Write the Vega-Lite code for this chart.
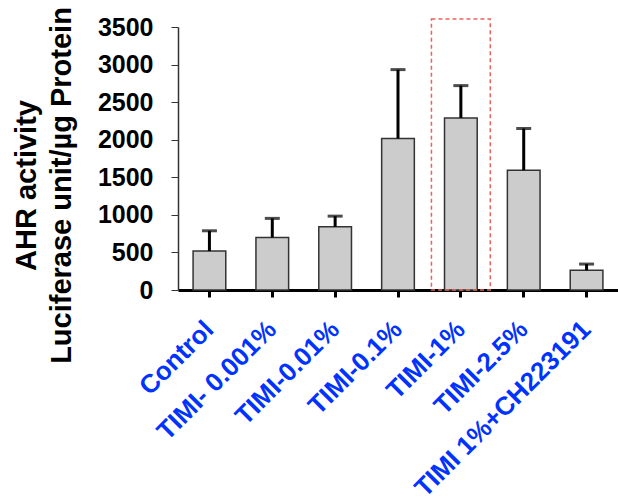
{
  "$schema": "https://vega.github.io/schema/vega-lite/v6.json",
  "width": 440,
  "height": 263,
  "autosize": {"type": "none"},
  "padding": {"left": 178, "top": 27, "right": 0, "bottom": 209},
  "config": {"font": "Liberation Sans", "view": {"stroke": null}, "axis": {"grid": false}},
  "datasets": {
    "bars": [
      {"group": "Control", "mean": 518, "upper": 788},
      {"group": "TIMI- 0.001%", "mean": 700, "upper": 953},
      {"group": "TIMI-0.01%", "mean": 842, "upper": 983},
      {"group": "TIMI-0.1%", "mean": 2016, "upper": 2933},
      {"group": "TIMI-1%", "mean": 2290, "upper": 2720},
      {"group": "TIMI-2.5%", "mean": 1595, "upper": 2149},
      {"group": "TIMI 1%+CH223191", "mean": 262, "upper": 345}
    ],
    "highlight": [{"group": "TIMI-1%", "top": 3606}]
  },
  "encoding": {
    "x": {
      "field": "group",
      "type": "nominal",
      "sort": null,
      "title": null,
      "scale": {
        "domain": ["Control", "TIMI- 0.001%", "TIMI-0.01%", "TIMI-0.1%", "TIMI-1%", "TIMI-2.5%", "TIMI 1%+CH223191"],
        "paddingInner": 0.48,
        "paddingOuter": 0.24
      },
      "axis": {
        "labelAngle": -45,
        "labelAlign": "right",
        "labelBaseline": "middle",
        "labelFontSize": 26,
        "labelFontWeight": "bold",
        "labelColor": "#0033ff",
        "labelPadding": 28,
        "labelLimit": 0,
        "labelOverlap": false,
        "tickSize": 7,
        "tickWidth": 3,
        "tickColor": "black",
        "domainWidth": 3,
        "domainColor": "black"
      }
    }
  },
  "layer": [
    {
      "data": {"name": "bars"},
      "mark": {"type": "bar", "fill": "#cccccc", "stroke": "#333333", "strokeWidth": 1.5},
      "encoding": {
        "y": {
          "field": "mean",
          "type": "quantitative",
          "scale": {"domain": [0, 3500], "nice": false},
          "axis": {
            "title": ["AHR activity", "Luciferase unit/µg Protein"],
            "titleFontSize": 29,
            "titleFontWeight": "bold",
            "titleColor": "black",
            "titleAngle": 270,
            "titleAlign": "center",
            "titleBaseline": "alphabetic",
            "titleLineHeight": 35,
            "titleX": -143,
            "titleY": 158,
            "values": [0, 500, 1000, 1500, 2000, 2500, 3000, 3500],
            "format": "d",
            "labelFontSize": 25,
            "labelFontWeight": "bold",
            "labelColor": "black",
            "labelPadding": 18,
            "tickSize": 7,
            "tickColor": "#333333",
            "tickWidth": 1,
            "domainColor": "#333333",
            "domainWidth": 1.5
          }
        }
      }
    },
    {
      "data": {"name": "bars"},
      "mark": {"type": "rule", "color": "black", "strokeWidth": 3},
      "encoding": {
        "y": {
          "field": "mean",
          "type": "quantitative",
          "scale": {"domain": [0, 3500], "nice": false},
          "axis": {
            "title": ["AHR activity", "Luciferase unit/µg Protein"],
            "titleFontSize": 29,
            "titleFontWeight": "bold",
            "titleColor": "black",
            "titleAngle": 270,
            "titleAlign": "center",
            "titleBaseline": "alphabetic",
            "titleLineHeight": 35,
            "titleX": -143,
            "titleY": 158,
            "values": [0, 500, 1000, 1500, 2000, 2500, 3000, 3500],
            "format": "d",
            "labelFontSize": 25,
            "labelFontWeight": "bold",
            "labelColor": "black",
            "labelPadding": 18,
            "tickSize": 7,
            "tickColor": "#333333",
            "tickWidth": 1,
            "domainColor": "#333333",
            "domainWidth": 1.5
          }
        },
        "y2": {"field": "upper"}
      }
    },
    {
      "data": {"name": "bars"},
      "mark": {"type": "tick", "color": "black", "thickness": 3, "size": 15, "orient": "horizontal"},
      "encoding": {
        "y": {
          "field": "upper",
          "type": "quantitative",
          "scale": {"domain": [0, 3500], "nice": false},
          "axis": {
            "title": ["AHR activity", "Luciferase unit/µg Protein"],
            "titleFontSize": 29,
            "titleFontWeight": "bold",
            "titleColor": "black",
            "titleAngle": 270,
            "titleAlign": "center",
            "titleBaseline": "alphabetic",
            "titleLineHeight": 35,
            "titleX": -143,
            "titleY": 158,
            "values": [0, 500, 1000, 1500, 2000, 2500, 3000, 3500],
            "format": "d",
            "labelFontSize": 25,
            "labelFontWeight": "bold",
            "labelColor": "black",
            "labelPadding": 18,
            "tickSize": 7,
            "tickColor": "#333333",
            "tickWidth": 1,
            "domainColor": "#333333",
            "domainWidth": 1.5
          }
        }
      }
    },
    {
      "data": {"name": "highlight"},
      "mark": {"type": "bar", "filled": false, "color": "#e8645a", "strokeDash": [4, 3], "strokeWidth": 1.5, "width": {"band": 1.8}, "clip": false},
      "encoding": {
        "y": {
          "field": "top",
          "type": "quantitative",
          "scale": {"domain": [0, 3500], "nice": false},
          "axis": {
            "title": ["AHR activity", "Luciferase unit/µg Protein"],
            "titleFontSize": 29,
            "titleFontWeight": "bold",
            "titleColor": "black",
            "titleAngle": 270,
            "titleAlign": "center",
            "titleBaseline": "alphabetic",
            "titleLineHeight": 35,
            "titleX": -143,
            "titleY": 158,
            "values": [0, 500, 1000, 1500, 2000, 2500, 3000, 3500],
            "format": "d",
            "labelFontSize": 25,
            "labelFontWeight": "bold",
            "labelColor": "black",
            "labelPadding": 18,
            "tickSize": 7,
            "tickColor": "#333333",
            "tickWidth": 1,
            "domainColor": "#333333",
            "domainWidth": 1.5
          }
        },
        "y2": {"datum": 0}
      }
    }
  ]
}
